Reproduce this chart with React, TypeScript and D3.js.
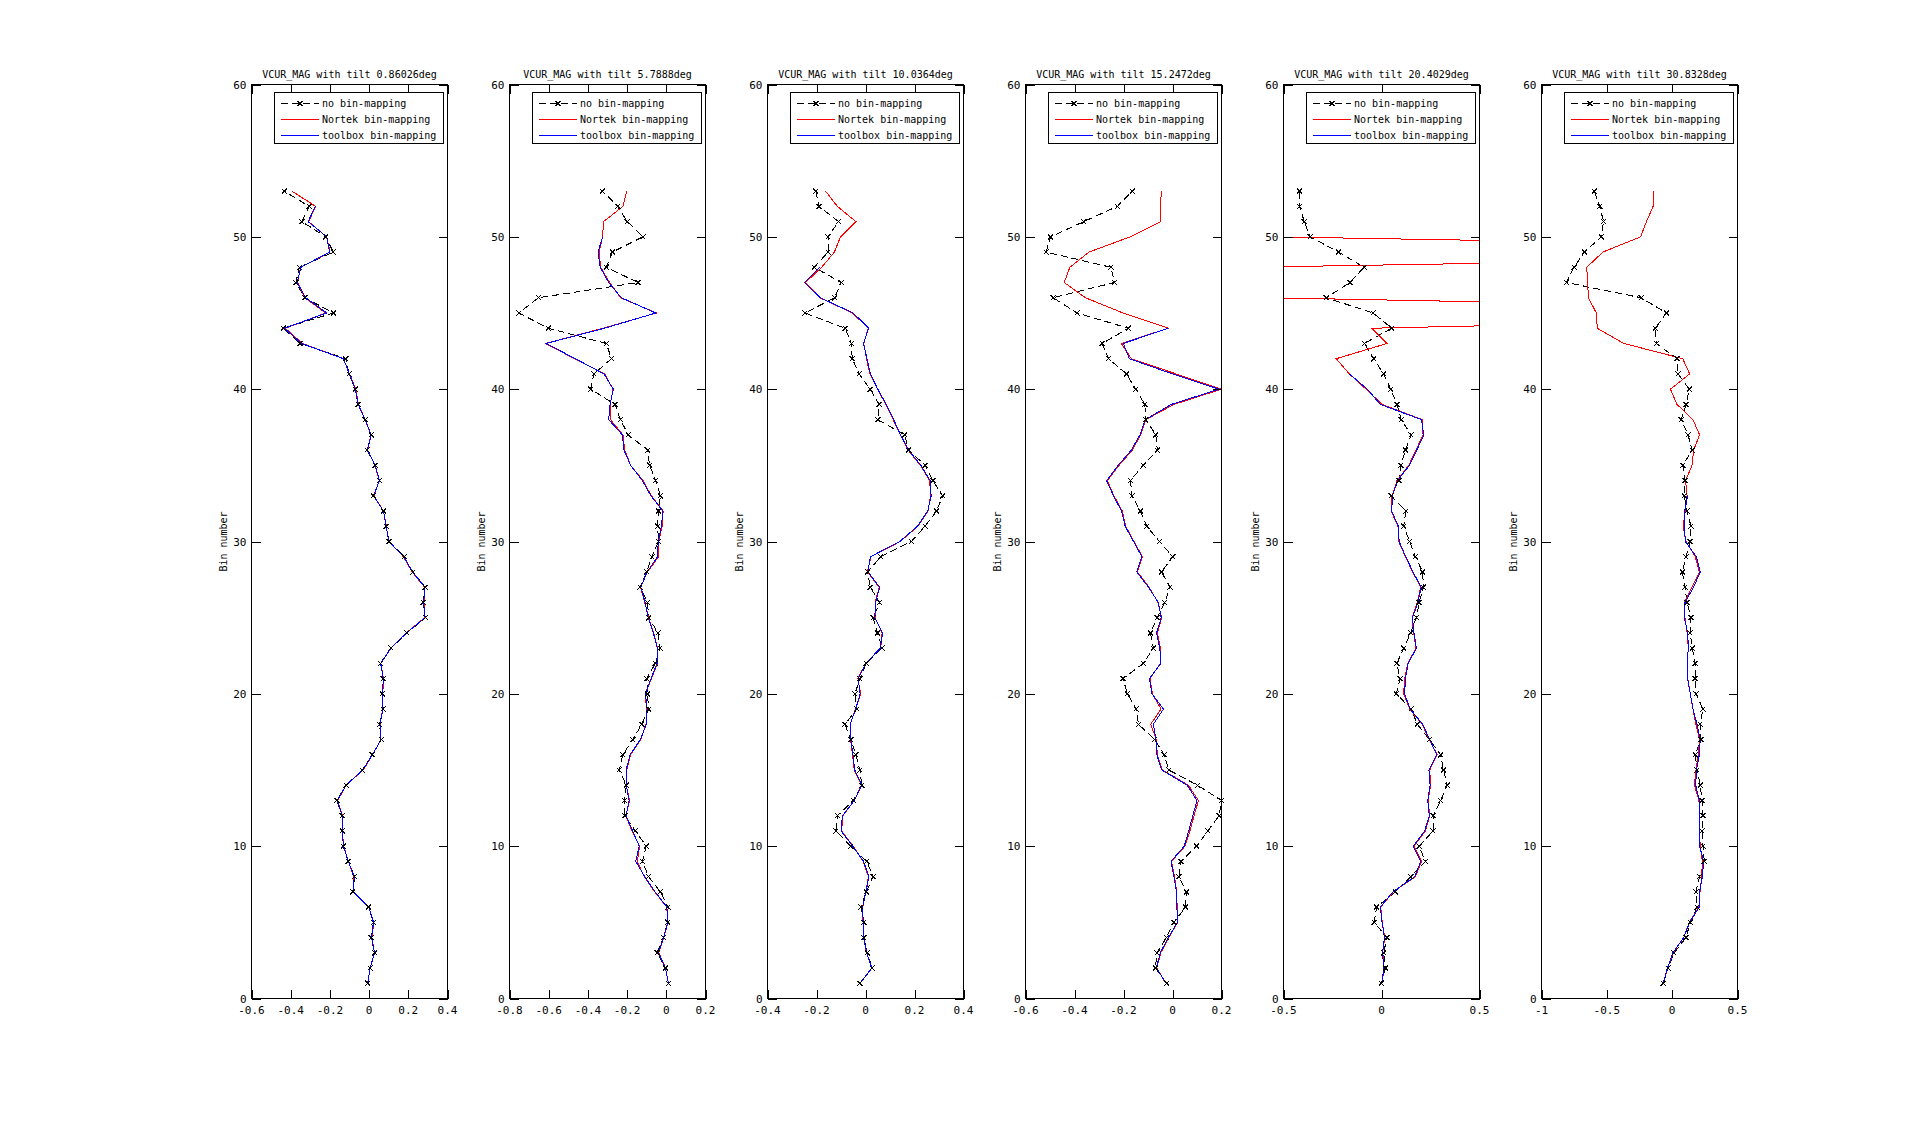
import React from 'react';
import * as d3 from 'd3';

// ---------- data ----------
const bins: number[] = d3.range(1, 54);

const titles = [
  'VCUR_MAG with tilt 0.86026deg',
  'VCUR_MAG with tilt 5.7888deg',
  'VCUR_MAG with tilt 10.0364deg',
  'VCUR_MAG with tilt 15.2472deg',
  'VCUR_MAG with tilt 20.4029deg',
  'VCUR_MAG with tilt 30.8328deg',
];

const xDomains: [number, number][] = [
  [-0.6, 0.4], [-0.8, 0.2], [-0.4, 0.4], [-0.6, 0.2], [-0.5, 0.5], [-1, 0.5],
];

const xTickValues: number[][] = [
  [-0.6, -0.4, -0.2, 0, 0.2, 0.4],
  [-0.8, -0.6, -0.4, -0.2, 0, 0.2],
  [-0.4, -0.2, 0, 0.2, 0.4],
  [-0.6, -0.4, -0.2, 0, 0.2],
  [-0.5, 0, 0.5],
  [-1, -0.5, 0, 0.5],
];

const yTickValues = [0, 10, 20, 30, 40, 50, 60];
const yLabel = 'Bin number';
const legendLabels = ['no bin-mapping', 'Nortek bin-mapping', 'toolbox bin-mapping'];

type V = number | null;

// Panel 1 (tilt 0.86026)
const noMap1: V[] = [
  -0.007, 0.005, 0.028, 0.011, 0.022, -0.003, -0.083, -0.074, -0.107, -0.132,
  -0.137, -0.137, -0.165, -0.117, -0.035, 0.016, 0.062, 0.053, 0.072, 0.068,
  0.072, 0.058, 0.111, 0.193, 0.288, 0.276, 0.286, 0.223, 0.179, 0.102,
  0.087, 0.073, 0.022, 0.053, 0.031, -0.010, 0.011, -0.020, -0.056, -0.071,
  -0.102, -0.119, -0.352, -0.437, -0.182, -0.328, -0.374, -0.355, -0.183, -0.221,
  -0.343, -0.306, -0.433,
];
const nortek1: V[] = [
  -0.007, 0.005, 0.028, 0.014, 0.024, -0.001, -0.080, -0.078, -0.105, -0.130,
  -0.137, -0.136, -0.160, -0.118, -0.030, 0.018, 0.060, 0.056, 0.070, 0.070,
  0.073, 0.060, 0.112, 0.190, 0.283, 0.280, 0.283, 0.220, 0.175, 0.100,
  0.088, 0.073, 0.025, 0.052, 0.030, -0.008, 0.010, -0.020, -0.055, -0.068,
  -0.100, -0.131, -0.340, -0.428, -0.221, -0.328, -0.365, -0.350, -0.199, -0.217,
  -0.309, -0.272, -0.394,
];
const toolbox1: V[] = [
  -0.007, 0.005, 0.028, 0.012, 0.023, -0.002, -0.081, -0.076, -0.106, -0.131,
  -0.137, -0.137, -0.162, -0.118, -0.032, 0.017, 0.061, 0.055, 0.071, 0.069,
  0.072, 0.059, 0.111, 0.191, 0.286, 0.278, 0.285, 0.222, 0.177, 0.101,
  0.087, 0.073, 0.023, 0.053, 0.031, -0.009, 0.011, -0.020, -0.056, -0.070,
  -0.101, -0.131, -0.345, -0.433, -0.216, -0.323, -0.367, -0.348, -0.202, -0.216,
  -0.311, -0.275, null,
];

// Panel 2 (tilt 5.7888)
const noMap2: V[] = [
  0.011, -0.004, -0.047, -0.015, 0.007, 0.009, -0.030, -0.090, -0.122, -0.102,
  -0.158, -0.211, -0.214, -0.204, -0.240, -0.222, -0.171, -0.125, -0.090, -0.096,
  -0.100, -0.056, -0.032, -0.042, -0.090, -0.096, -0.134, -0.100, -0.073, -0.040,
  -0.044, -0.040, -0.030, -0.054, -0.085, -0.095, -0.194, -0.234, -0.262, -0.386,
  -0.369, -0.280, -0.306, -0.602, -0.752, -0.652, -0.144, -0.306, -0.275, -0.119,
  -0.199, -0.248, -0.326,
];
const nortek2: V[] = [
  0.011, -0.004, -0.038, -0.013, 0.009, 0.002, -0.059, -0.113, -0.148, -0.136,
  -0.175, -0.207, -0.187, -0.205, -0.202, -0.182, -0.130, -0.103, -0.100, -0.108,
  -0.076, -0.045, -0.045, -0.064, -0.090, -0.110, -0.132, -0.096, -0.039, -0.039,
  -0.021, -0.016, -0.076, -0.119, -0.182, -0.212, -0.221, -0.285, -0.286, -0.272,
  -0.314, -0.468, -0.616, -0.323, -0.050, -0.233, -0.289, -0.335, -0.343, -0.325,
  -0.320, -0.221, -0.202,
];
const toolbox2: V[] = [
  0.011, -0.004, -0.040, -0.014, 0.008, 0.003, -0.057, -0.110, -0.156, -0.138,
  -0.172, -0.205, -0.190, -0.204, -0.205, -0.185, -0.132, -0.102, -0.098, -0.106,
  -0.078, -0.047, -0.046, -0.066, -0.093, -0.108, -0.130, -0.098, -0.045, -0.041,
  -0.025, -0.017, -0.079, -0.122, -0.182, -0.216, -0.224, -0.294, -0.287, -0.270,
  -0.318, -0.464, -0.613, -0.315, -0.054, -0.229, -0.294, -0.337, -0.348, -0.325,
  null, null, null,
];

// Panel 3 (tilt 10.0364)
const noMap3: V[] = [
  -0.023, 0.027, 0.007, -0.007, -0.007, -0.019, 0.003, 0.031, 0.005, -0.060,
  -0.121, -0.114, -0.050, -0.015, -0.023, -0.039, -0.060, -0.084, -0.035, -0.043,
  -0.023, 0.003, 0.068, 0.049, 0.031, 0.058, 0.019, 0.009, 0.062, 0.187,
  0.243, 0.290, 0.315, 0.275, 0.244, 0.175, 0.160, 0.050, 0.056, 0.019,
  -0.026, -0.054, -0.058, -0.083, -0.247, -0.126, -0.099, -0.209, -0.153, -0.153,
  -0.110, -0.190, -0.203,
];
const nortek3: V[] = [
  -0.023, 0.026, 0.004, -0.008, -0.010, -0.011, 0.001, 0.012, -0.009, -0.050,
  -0.098, -0.092, -0.046, -0.016, -0.046, -0.053, -0.061, -0.062, -0.041, -0.020,
  -0.031, 0.001, 0.062, 0.068, 0.039, 0.039, 0.056, 0.008, 0.022, 0.142,
  0.214, 0.255, 0.266, 0.262, 0.224, 0.174, 0.142, 0.113, 0.083, 0.049,
  0.018, 0.004, -0.007, 0.011, -0.053, -0.186, -0.245, -0.179, -0.127, -0.102,
  -0.039, -0.115, -0.163,
];
const toolbox3: V[] = [
  -0.023, 0.026, 0.005, -0.008, -0.009, -0.012, 0.002, 0.014, -0.008, -0.052,
  -0.100, -0.094, -0.045, -0.014, -0.044, -0.051, -0.060, -0.063, -0.040, -0.022,
  -0.030, 0.002, 0.060, 0.070, 0.038, 0.041, 0.058, 0.010, 0.020, 0.140,
  0.212, 0.254, 0.268, 0.264, 0.226, 0.176, 0.143, 0.115, 0.085, 0.050,
  0.020, 0.006, -0.008, 0.013, -0.050, -0.184, -0.250, -0.186, null, null,
  null, null, null,
];

// Panel 4 (tilt 15.2472)
const noMap4: V[] = [
  -0.024, -0.070, -0.063, -0.025, 0.006, 0.053, 0.057, 0.026, 0.035, 0.098,
  0.144, 0.190, 0.200, 0.102, -0.015, -0.034, -0.073, -0.139, -0.148, -0.184,
  -0.202, -0.119, -0.078, -0.090, -0.062, -0.032, -0.010, -0.045, 0.001, -0.053,
  -0.105, -0.131, -0.165, -0.172, -0.119, -0.062, -0.068, -0.109, -0.113, -0.150,
  -0.188, -0.261, -0.287, -0.180, -0.389, -0.487, -0.237, -0.251, -0.516, -0.498,
  -0.362, -0.225, -0.164,
];
const nortek4: V[] = [
  -0.028, -0.064, -0.048, -0.015, 0.021, 0.019, 0.017, 0.008, -0.004, 0.051,
  0.071, 0.088, 0.106, 0.065, -0.041, -0.062, -0.066, -0.089, -0.047, -0.082,
  -0.092, -0.049, -0.049, -0.062, -0.044, -0.059, -0.096, -0.143, -0.123, -0.157,
  -0.191, -0.205, -0.239, -0.266, -0.218, -0.164, -0.130, -0.109, 0.006, 0.200,
  0.015, -0.168, -0.209, -0.017, -0.202, -0.355, -0.442, -0.419, -0.341, -0.173,
  -0.048, -0.051, -0.044,
];
const toolbox4: V[] = [
  -0.026, -0.066, -0.050, -0.017, 0.020, 0.018, 0.016, 0.006, -0.006, 0.048,
  0.066, 0.083, 0.100, 0.060, -0.044, -0.064, -0.068, -0.078, -0.037, -0.084,
  -0.094, -0.047, -0.052, -0.065, -0.046, -0.058, -0.098, -0.146, -0.125, -0.159,
  -0.193, -0.208, -0.241, -0.269, -0.222, -0.168, -0.133, -0.111, -0.005, 0.190,
  0.000, -0.176, -0.201, -0.017, null, null, null, null, null, null,
  null, null, null,
];

// Panel 5 (tilt 20.4029)
const noMap5: V[] = [
  -0.001, 0.020, 0.011, 0.028, -0.037, -0.025, 0.071, 0.149, 0.224, 0.192,
  0.263, 0.263, 0.302, 0.336, 0.316, 0.302, 0.244, 0.183, 0.151, 0.076,
  0.095, 0.078, 0.113, 0.149, 0.178, 0.192, 0.214, 0.210, 0.173, 0.144,
  0.113, 0.124, 0.049, 0.089, 0.098, 0.122, 0.151, 0.101, 0.079, 0.047,
  0.011, -0.040, -0.088, 0.052, -0.042, -0.282, -0.161, -0.089, -0.219, -0.364,
  -0.394, -0.418, -0.418,
];
const nortek5: V[] = [
  0.003, 0.013, 0.006, 0.016, 0.004, -0.004, 0.060, 0.173, 0.204, 0.166,
  0.224, 0.246, 0.238, 0.251, 0.246, 0.284, 0.244, 0.207, 0.144, 0.113,
  0.118, 0.134, 0.176, 0.164, 0.156, 0.183, 0.200, 0.159, 0.122, 0.088,
  0.084, 0.049, 0.054, 0.079, 0.139, 0.176, 0.212, 0.207, 0.003, -0.079,
  -0.164, -0.231, 0.028, -0.050, 3.5, -0.57, -2.0, -0.7, 4.0, -0.55,
  -1.0, -1.2, -1.5,
];
const toolbox5: V[] = [
  0.002, 0.012, 0.005, 0.015, 0.003, -0.006, 0.058, 0.170, 0.200, 0.162,
  0.220, 0.244, 0.236, 0.248, 0.242, 0.282, 0.246, 0.210, 0.146, 0.118,
  0.122, 0.136, 0.178, 0.166, 0.158, 0.186, 0.202, 0.161, 0.124, 0.090,
  0.086, 0.052, 0.056, 0.082, 0.142, 0.180, 0.216, 0.204, -0.006, -0.072,
  -0.164, null, null, null, null, null, null, null, null, null,
  null, null, null,
];

// Panel 6 (tilt 30.8328)
const noMap6: V[] = [
  -0.069, -0.031, 0.014, 0.106, 0.139, 0.190, 0.182, 0.210, 0.246, 0.236,
  0.228, 0.236, 0.228, 0.215, 0.190, 0.177, 0.220, 0.213, 0.236, 0.182,
  0.175, 0.177, 0.154, 0.137, 0.144, 0.114, 0.098, 0.078, 0.106, 0.137,
  0.144, 0.114, 0.093, 0.098, 0.081, 0.154, 0.121, 0.070, 0.106, 0.131,
  0.045, 0.037, -0.120, -0.128, -0.044, -0.237, -0.809, -0.751, -0.672, -0.542,
  -0.525, -0.555, -0.596,
];
const nortek6: V[] = [
  -0.069, -0.034, 0.007, 0.088, 0.131, 0.205, 0.213, 0.226, 0.231, 0.215,
  0.208, 0.208, 0.205, 0.170, 0.182, 0.200, 0.210, 0.182, 0.159, 0.139,
  0.119, 0.114, 0.124, 0.114, 0.098, 0.093, 0.152, 0.208, 0.177, 0.106,
  0.083, 0.101, 0.114, 0.103, 0.152, 0.164, 0.210, 0.159, 0.037, -0.013,
  0.134, 0.081, -0.369, -0.573, -0.580, -0.641, -0.647, -0.654, -0.530, -0.242,
  -0.197, -0.146, -0.146,
];
const toolbox6: V[] = [
  -0.069, -0.036, 0.005, 0.088, 0.134, 0.208, 0.210, 0.231, 0.241, 0.210,
  0.210, 0.210, 0.208, 0.180, 0.186, 0.208, 0.215, 0.190, 0.160, 0.139,
  0.118, 0.114, 0.124, 0.119, 0.093, 0.098, 0.164, 0.215, 0.185, 0.101,
  0.093, 0.096, 0.119, null, null, null, null, null, null, null,
  null, null, null, null, null, null, null, null, null, null,
  null, null, null,
];

const noMapSeries = [noMap1, noMap2, noMap3, noMap4, noMap5, noMap6];
const nortekSeries = [nortek1, nortek2, nortek3, nortek4, nortek5, nortek6];
const toolboxSeries = [toolbox1, toolbox2, toolbox3, toolbox4, toolbox5, toolbox6];

// ---------- layout ----------
const W = 1920;
const H = 1121;
const PANEL_X0 = 250.7;
const PANEL_STEP = 258.1;
const PANEL_W = 196;
const TOP = 84.5;
const BOTTOM = 998.5;
const TICK = 9;
const FONT = "'DejaVu Sans Mono', 'Liberation Mono', monospace";
const FS = 10;
const TICK_FS = 11;

const xMark = 'M-2.5,-2.5L2.5,2.5M-2.5,2.5L2.5,-2.5';

function Panel({ i }: { i: number }) {
  const left = Math.round(PANEL_X0 + i * PANEL_STEP) + 0.5;
  const right = left + PANEL_W;
  const x = d3.scaleLinear().domain(xDomains[i]).range([left, right]);
  const y = d3.scaleLinear().domain([0, 60]).range([BOTTOM, TOP]);
  const line = d3
    .line<[number, V]>()
    .defined((d) => d[1] != null)
    .x((d) => x(d[1] as number))
    .y((d) => y(d[0]));
  const toPairs = (arr: V[]) => bins.map((b, k) => [b, arr[k]] as [number, V]);
  const clipId = `clip${i}`;
  const [d0, d1] = xDomains[i];

  const lgW = 169;
  const lgH = 51;
  const lgX = right - 5 - lgW;
  const lgY = TOP + 7;
  const rows = [11, 27, 43];
  const colors = ['#000000', '#ff0000', '#0000ff'];

  return (
    <g>
      <defs>
        <clipPath id={clipId}>
          <rect x={left} y={TOP} width={PANEL_W} height={BOTTOM - TOP} />
        </clipPath>
      </defs>
      <rect x={left} y={TOP} width={PANEL_W} height={BOTTOM - TOP} fill="#fff" />
      {/* data */}
      <g clipPath={`url(#${clipId})`} fill="none" strokeWidth={1} shapeRendering="crispEdges">
        <path d={line(toPairs(noMapSeries[i])) || ''} stroke="#000" strokeDasharray="7,4" />
        <path d={line(toPairs(nortekSeries[i])) || ''} stroke="#ff0000" />
        <path d={line(toPairs(toolboxSeries[i])) || ''} stroke="#0000ff" />
      </g>
      <g stroke="#000" strokeWidth={1} fill="none" shapeRendering="crispEdges">
        {toPairs(noMapSeries[i])
          .filter((d) => d[1] != null && (d[1] as number) >= d0 - 1e-9 && (d[1] as number) <= d1 + 1e-9)
          .map((d, k) => (
            <path key={k} d={xMark} transform={`translate(${x(d[1] as number)},${y(d[0])})`} />
          ))}
      </g>
      {/* axes box and ticks */}
      <g shapeRendering="crispEdges" stroke="#000" strokeWidth={1} fill="none">
        <rect x={left} y={TOP} width={PANEL_W} height={BOTTOM - TOP} />
        {xTickValues[i].map((t) => (
          <g key={t}>
            <line x1={Math.round(x(t)) + 0.5} x2={Math.round(x(t)) + 0.5} y1={BOTTOM} y2={BOTTOM - TICK} />
            <line x1={Math.round(x(t)) + 0.5} x2={Math.round(x(t)) + 0.5} y1={TOP} y2={TOP + TICK} />
          </g>
        ))}
        {yTickValues.map((t) => (
          <g key={t}>
            <line x1={left} x2={left + TICK} y1={Math.round(y(t)) + 0.5} y2={Math.round(y(t)) + 0.5} />
            <line x1={right} x2={right - TICK} y1={Math.round(y(t)) + 0.5} y2={Math.round(y(t)) + 0.5} />
          </g>
        ))}
      </g>
      {/* tick labels */}
      <g fontFamily={FONT} fill="#000">
        {xTickValues[i].map((t) => (
          <text key={t} x={x(t)} y={BOTTOM + 15} textAnchor="middle" fontSize={TICK_FS}>
            {String(t)}
          </text>
        ))}
        {yTickValues.map((t) => (
          <text key={t} x={left - 5} y={y(t) + 4} textAnchor="end" fontSize={TICK_FS}>
            {String(t)}
          </text>
        ))}
        <text x={(left + right) / 2} y={TOP - 7} textAnchor="middle" fontSize={FS}>
          {titles[i]}
        </text>
        <text
          transform={`translate(${left - 25},${(TOP + BOTTOM) / 2}) rotate(-90)`}
          textAnchor="middle"
          fontSize={FS}
        >
          {yLabel}
        </text>
      </g>
      {/* legend */}
      <g>
        <rect
          x={Math.round(lgX) + 0.5}
          y={Math.round(lgY) + 0.5}
          width={lgW}
          height={lgH}
          fill="#fff"
          stroke="#000"
          shapeRendering="crispEdges"
        />
        {legendLabels.map((lab, k) => {
          const ry = Math.round(lgY + rows[k]) + 0.5;
          return (
            <g key={lab}>
              <line
                x1={Math.round(lgX) + 7}
                x2={Math.round(lgX) + 45}
                y1={ry}
                y2={ry}
                stroke={colors[k]}
                strokeWidth={1}
                strokeDasharray={k === 0 ? '7,4' : undefined}
                shapeRendering="crispEdges"
              />
              {k === 0 && (
                <path
                  d={xMark}
                  transform={`translate(${Math.round(lgX) + 26},${ry})`}
                  stroke="#000"
                  fill="none"
                  shapeRendering="crispEdges"
                />
              )}
              <text x={lgX + 48.5} y={ry + 3.5} fontFamily={FONT} fontSize={FS} fill="#000">
                {lab}
              </text>
            </g>
          );
        })}
      </g>
    </g>
  );
}

export default function App() {
  return (
    <svg
      width={W}
      height={H}
      viewBox={`0 0 ${W} ${H}`}
      style={{ position: 'absolute', left: 0, top: 0, display: 'block', background: '#fff' }}
    >
      <rect x={0} y={0} width={W} height={H} fill="#fff" />
      {titles.map((_, i) => (
        <Panel key={i} i={i} />
      ))}
    </svg>
  );
}
